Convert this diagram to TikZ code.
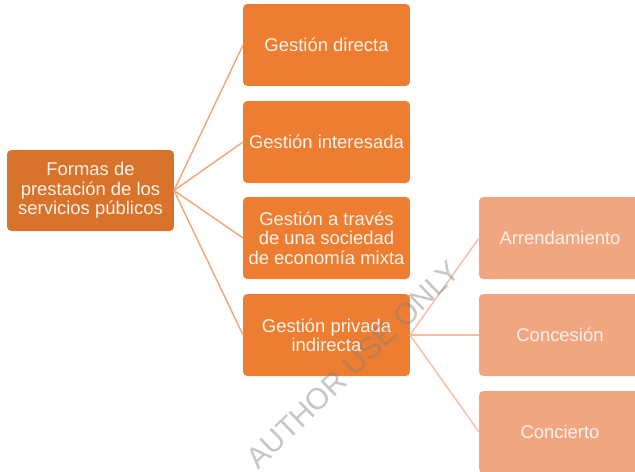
\documentclass[tikz,border=0pt]{standalone}
\usepackage{fontspec}
\setmainfont{Liberation Sans}
\definecolor{naranjaosc}{HTML}{D9722B}
\definecolor{naranja}{HTML}{ED7D31}
\definecolor{salmon}{HTML}{F1A581}
\definecolor{lineaA}{HTML}{F3A474}
\definecolor{lineaB}{HTML}{F5BEA3}
\definecolor{letra}{HTML}{FDF3EA}

\begin{document}
\begin{tikzpicture}[x=0.02cm,y=-0.02cm,
  caja/.style={rounded corners=2.5pt, inner sep=0pt, outer sep=0pt, align=center,
    text=letra, font=\fontsize{10.5}{11}\selectfont},
  raiz/.style={caja, fill=naranjaosc, minimum width=3.34cm, minimum height=1.62cm},
  medio/.style={caja, fill=naranja, minimum width=3.34cm, minimum height=1.64cm},
  hoja/.style={caja, fill=salmon, minimum width=3.24cm, minimum height=1.64cm},
  rama/.style={draw=lineaA, line width=0.8pt},
  ramita/.style={draw=lineaB, line width=0.8pt}]
  \useasboundingbox (0,0) rectangle (635,471);
  % raiz
  \node[raiz] (formas) at (90.5,190.5) {Formas de\\prestaci\'on de los\\servicios p\'ublicos};
  % segundo nivel
  \node[medio] (directa) at (326.5,45) {Gesti\'on directa};
  \node[medio] (interesada) at (326.5,142) {Gesti\'on interesada};
  \node[medio] (mixta) at (326.5,238) {Gesti\'on a trav\'es\\de una sociedad\\de econom\'ia mixta};
  \node[medio] (privada) at (326.5,335) {Gesti\'on privada\\indirecta};
  % tercer nivel
  \node[hoja] (arrend) at (560,238) {Arrendamiento};
  \node[hoja] (concesion) at (560,335) {Concesi\'on};
  \node[hoja] (concierto) at (560,432) {Concierto};
  \draw[rama] (formas.east) -- (directa.west);
  \draw[rama] (formas.east) -- (interesada.west);
  \draw[rama] (formas.east) -- (mixta.west);
  \draw[rama] (formas.east) -- (privada.west);
  \draw[ramita] (privada.east) -- (arrend.west);
  \draw[ramita] (privada.east) -- (concesion.west);
  \draw[ramita] (privada.east) -- (concierto.west);
  % marca de agua
  \node[rotate=44, text=gray, opacity=0.45, font=\fontsize{17}{17}\selectfont] (marca) at (353,365) {AUTHOR USE ONLY};
\end{tikzpicture}
\end{document}
